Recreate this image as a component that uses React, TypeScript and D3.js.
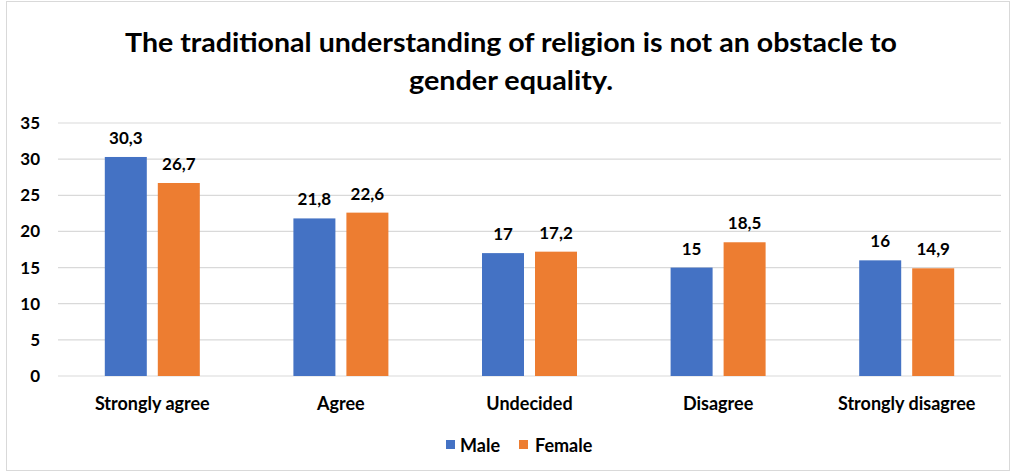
import React from "react";
import * as d3 from "d3";

const categories = ["Strongly agree", "Agree", "Undecided", "Disagree", "Strongly disagree"];
const seriesNames = ["Male", "Female"];
const maleValues = [30.3, 21.8, 17, 15, 16];
const femaleValues = [26.7, 22.6, 17.2, 18.5, 14.9];
const yTicks = [0, 5, 10, 15, 20, 25, 30, 35];
const titleLines = ["The traditional understanding of religion is not an obstacle to", "gender equality."];
const colors = ["#4472C4", "#ED7D31"];

const W = 1014;
const H = 474;
const FONT = "Lato, 'Open Sans', sans-serif";

export default function App() {
  const left = 58, right = 1001, top = 123, bottom = 376;
  const x = d3.scaleBand<string>().domain(categories).range([left, right]).padding(0);
  const y = d3.scaleLinear().domain([0, 35]).range([bottom, top]);
  const barW = 42;
  const gap = 11;
  const fmt = (v: number) => String(v).replace(".", ",");
  const series = [maleValues, femaleValues];
  const titleLens = [772, 204];

  return (
    <svg width={W} height={H} style={{ position: "absolute", left: 0, top: 0, fontFamily: FONT }}>
      <rect x={0} y={0} width={W} height={H} fill="#fff" />
      <rect x={6.5} y={1.5} width={1003} height={469} fill="none" stroke="#D9D9D9" strokeWidth={1} />
      {titleLines.map((t, i) => (
        <text key={i} x={511} y={52 + i * 38} textAnchor="middle" fontSize={27.5} fontWeight={700} fill="#000"
          textLength={titleLens[i]} lengthAdjust="spacingAndGlyphs">
          {t}
        </text>
      ))}
      {yTicks.map((t) => (
        <g key={t}>
          <line x1={left} x2={right} y1={y(t)} y2={y(t)} stroke="#D9D9D9" strokeWidth={1.2} />
          <text x={40} y={y(t) + 6} textAnchor="end" fontSize={17} fontWeight={700} fill="#000">
            {t}
          </text>
        </g>
      ))}
      {categories.map((c, ci) => {
        const cx = (x(c) as number) + x.bandwidth() / 2;
        return (
          <g key={c}>
            {series.map((vals, si) => {
              const bx = si === 0 ? cx - gap / 2 - barW : cx + gap / 2;
              const v = vals[ci];
              return (
                <g key={si}>
                  <rect x={bx} y={y(v)} width={barW} height={y(0) - y(v)} fill={colors[si]} />
                  <text x={bx + barW / 2} y={y(v) - 13} textAnchor="middle" fontSize={17} fontWeight={700} fill="#000">
                    {fmt(v)}
                  </text>
                </g>
              );
            })}
            <text x={cx} y={410} textAnchor="middle" fontSize={18} fontWeight={700} fill="#000">
              {c}
            </text>
          </g>
        );
      })}
      <g>
        <rect x={446} y={440} width={9} height={9} fill={colors[0]} />
        <text x={460} y={452} fontSize={18} fontWeight={700} fill="#000">{seriesNames[0]}</text>
        <rect x={519} y={440} width={9} height={9} fill={colors[1]} />
        <text x={535} y={452} fontSize={18} fontWeight={700} fill="#000">{seriesNames[1]}</text>
      </g>
    </svg>
  );
}
